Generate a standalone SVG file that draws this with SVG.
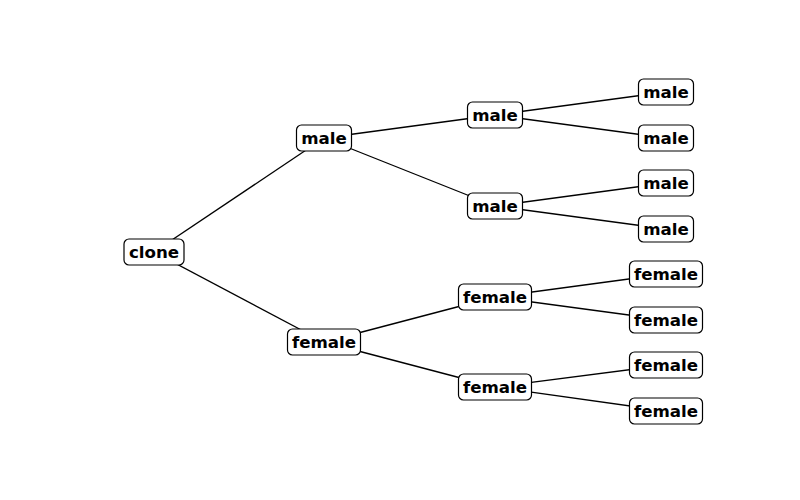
<svg xmlns="http://www.w3.org/2000/svg" width="800" height="500" viewBox="0 0 800 500">
<style>
.e{stroke:#000;stroke-width:1.3;fill:none}
.b{fill:#fff;stroke:#000;stroke-width:1.2}
.t{font-family:"DejaVu Sans",sans-serif;font-weight:bold;font-size:16.67px;text-anchor:middle;fill:#000}
</style>
<rect width="800" height="500" fill="#fff"/>
<g id="connectors">
<line class="e" x1="154" y1="252" x2="324" y2="138"/>
<line class="e" x1="154" y1="252" x2="324" y2="342"/>
<line class="e" x1="324" y1="138" x2="495" y2="115"/>
<line class="e" x1="324" y1="138" x2="495" y2="206"/>
<line class="e" x1="324" y1="342" x2="495" y2="297"/>
<line class="e" x1="324" y1="342" x2="495" y2="387"/>
<line class="e" x1="495" y1="115" x2="666" y2="92"/>
<line class="e" x1="495" y1="115" x2="666" y2="138"/>
<line class="e" x1="495" y1="206" x2="666" y2="183"/>
<line class="e" x1="495" y1="206" x2="666" y2="229"/>
<line class="e" x1="495" y1="297" x2="666" y2="274"/>
<line class="e" x1="495" y1="297" x2="666" y2="320"/>
<line class="e" x1="495" y1="387" x2="666" y2="365"/>
<line class="e" x1="495" y1="387" x2="666" y2="411"/>
</g>
<g id="n0"><rect class="b" x="124" y="239" width="60" height="26" rx="5"/><text class="t" x="154" y="258">clone</text></g>
<g id="n1"><rect class="b" x="296.5" y="125" width="55" height="26" rx="5"/><text class="t" x="324" y="144">male</text></g>
<g id="n2"><rect class="b" x="287.5" y="329" width="73" height="26" rx="5"/><text class="t" x="324" y="348">female</text></g>
<g id="n3"><rect class="b" x="467.5" y="102" width="55" height="26" rx="5"/><text class="t" x="495" y="121">male</text></g>
<g id="n4"><rect class="b" x="467.5" y="193" width="55" height="26" rx="5"/><text class="t" x="495" y="212">male</text></g>
<g id="n5"><rect class="b" x="458.5" y="284" width="73" height="26" rx="5"/><text class="t" x="495" y="303">female</text></g>
<g id="n6"><rect class="b" x="458.5" y="374" width="73" height="26" rx="5"/><text class="t" x="495" y="393">female</text></g>
<g id="n7"><rect class="b" x="638.5" y="79" width="55" height="26" rx="5"/><text class="t" x="666" y="98">male</text></g>
<g id="n8"><rect class="b" x="638.5" y="125" width="55" height="26" rx="5"/><text class="t" x="666" y="144">male</text></g>
<g id="n9"><rect class="b" x="638.5" y="170" width="55" height="26" rx="5"/><text class="t" x="666" y="189">male</text></g>
<g id="n10"><rect class="b" x="638.5" y="216" width="55" height="26" rx="5"/><text class="t" x="666" y="235">male</text></g>
<g id="n11"><rect class="b" x="629.5" y="261" width="73" height="26" rx="5"/><text class="t" x="666" y="280">female</text></g>
<g id="n12"><rect class="b" x="629.5" y="307" width="73" height="26" rx="5"/><text class="t" x="666" y="326">female</text></g>
<g id="n13"><rect class="b" x="629.5" y="352" width="73" height="26" rx="5"/><text class="t" x="666" y="371">female</text></g>
<g id="n14"><rect class="b" x="629.5" y="398" width="73" height="26" rx="5"/><text class="t" x="666" y="417">female</text></g>
</svg>
